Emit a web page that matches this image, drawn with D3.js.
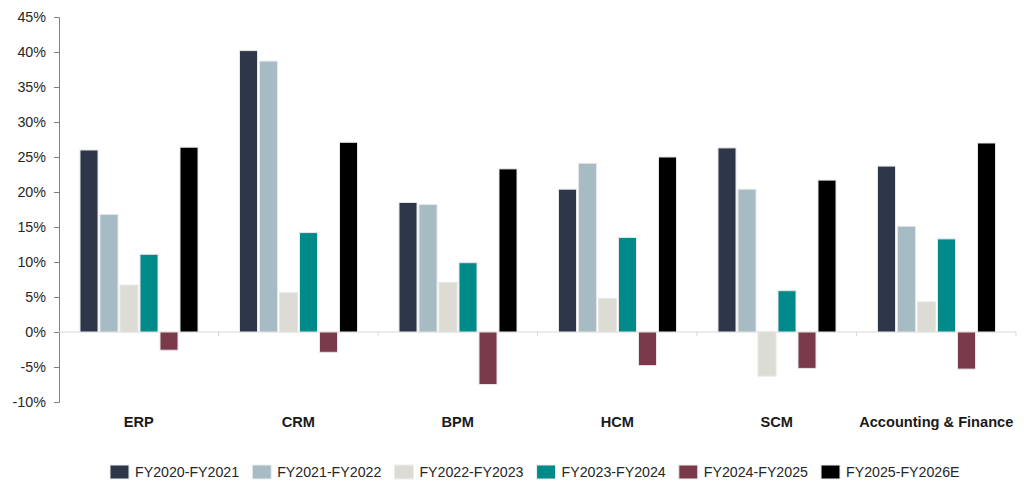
<!DOCTYPE html>
<html>
<head>
<meta charset="utf-8">
<script src="https://cdn.jsdelivr.net/npm/d3@7"></script>
<style>
  body { margin: 0; background: #fff; }
  svg text { font-family: "Liberation Sans", Arial, sans-serif; }
</style>
</head>
<body>
<script>
const w = 1024;
const h = 490;

// ----- DATA -----
const categories = ["ERP", "CRM", "BPM", "HCM", "SCM", "Accounting & Finance"];
const seriesNames = ["FY2020-FY2021", "FY2021-FY2022", "FY2022-FY2023", "FY2023-FY2024", "FY2024-FY2025", "FY2025-FY2026E"];
const seriesColors = ["#2e3649", "#a6bbc4", "#dcdcd4", "#008a8a", "#7b3a4c", "#000000"];
const fy2021 = [26.0, 40.2, 18.5, 20.4, 26.3, 23.7];
const fy2022 = [16.8, 38.7, 18.2, 24.1, 20.4, 15.1];
const fy2023 = [6.7, 5.6, 7.1, 4.8, -6.3, 4.3];
const fy2024 = [11.1, 14.2, 9.9, 13.5, 5.9, 13.3];
const fy2025 = [-2.6, -2.9, -7.5, -4.8, -5.2, -5.3];
const fy2026 = [26.4, 27.1, 23.3, 25.0, 21.7, 27.0];
const yTicks = [-10, -5, 0, 5, 10, 15, 20, 25, 30, 35, 40, 45];

const series = [fy2021, fy2022, fy2023, fy2024, fy2025, fy2026];

const svg = d3.select("body").append("svg")
  .attr("width", w)
  .attr("height", h);

// ----- SCALES -----
const y = d3.scaleLinear().domain([-10, 45]).range([402, 17]);
const x0 = d3.scaleBand().domain(categories).range([59, 1016]);
const x1 = d3.scaleBand().domain(seriesNames).range([20, 140])
  .paddingInner(0.1).paddingOuter(0.05);

// ----- Y AXIS -----
const yAxis = d3.axisLeft(y).tickValues(yTicks).tickSize(5).tickPadding(8)
  .tickFormat(d => d + "%");

const gy = svg.append("g")
  .attr("transform", "translate(59,0)")
  .call(yAxis);
gy.select(".domain").attr("stroke", "#808080");
gy.selectAll(".tick line").attr("stroke", "#808080");
gy.selectAll(".tick text")
  .attr("fill", "#262626")
  .style("font-size", "14.3px");

// ----- ZERO LINE -----
svg.append("line")
  .attr("x1", 59).attr("x2", 1016)
  .attr("y1", y(0)).attr("y2", y(0))
  .attr("stroke", "#d9d9d9");

svg.append("g").selectAll("line")
  .data(categories.slice(1).concat(["end"]))
  .enter().append("line")
  .attr("x1", (d, i) => 59 + x0.bandwidth() * (i + 1))
  .attr("x2", (d, i) => 59 + x0.bandwidth() * (i + 1))
  .attr("y1", y(0)).attr("y2", y(0) + 4)
  .attr("stroke", "#d9d9d9");

// ----- BARS -----
const groups = svg.append("g").selectAll("g")
  .data(categories)
  .enter().append("g")
  .attr("transform", d => "translate(" + x0(d) + ",0)");

groups.selectAll("rect")
  .data((c, ci) => series.map((s, si) => ({ name: seriesNames[si], value: s[ci], color: seriesColors[si] })))
  .enter().append("rect")
  .attr("x", d => x1(d.name))
  .attr("width", x1.bandwidth())
  .attr("y", d => y(Math.max(0, d.value)))
  .attr("height", d => Math.abs(y(d.value) - y(0)))
  .attr("fill", d => d.color)
  .attr("stroke", "#e6e6e6")
  .attr("stroke-width", 1);

// ----- CATEGORY LABELS -----
svg.append("g").selectAll("text")
  .data(categories)
  .enter().append("text")
  .attr("x", d => x0(d) + x0.bandwidth() / 2)
  .attr("y", 427)
  .attr("text-anchor", "middle")
  .attr("fill", "#1a1a1a")
  .style("font-size", "14.6px")
  .style("font-weight", "bold")
  .text(d => d);

// ----- LEGEND -----
const legend = svg.append("g").selectAll("g")
  .data(seriesNames)
  .enter().append("g")
  .attr("transform", (d, i) => "translate(" + (110 + i * 142.2) + ",465)");

legend.append("rect")
  .attr("width", 19)
  .attr("height", 14)
  .attr("fill", (d, i) => seriesColors[i])
  .attr("stroke", "#eeeeee");

legend.append("text")
  .attr("x", 25)
  .attr("y", 12)
  .attr("fill", "#262626")
  .style("font-size", "14.2px")
  .text(d => d);
</script>
</body>
</html>
